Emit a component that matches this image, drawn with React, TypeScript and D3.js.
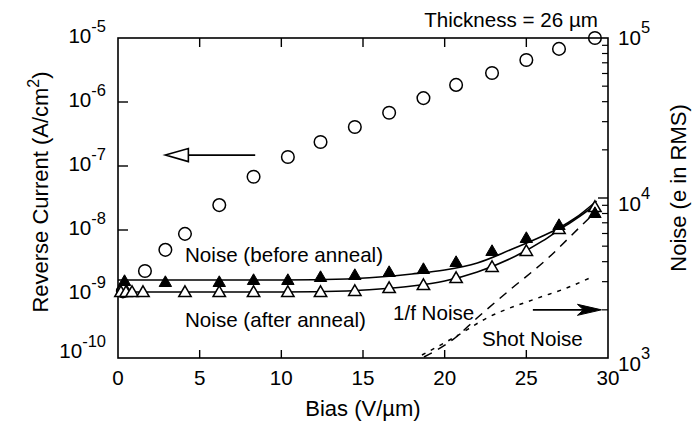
import React from "react";
import * as d3 from "d3";

// Reverse current (left axis, A/cm^2), open circles
const currentBias = [0.3, 1.65, 2.9, 4.1, 6.2, 8.3, 10.4, 12.4, 14.5, 16.6, 18.7, 20.7, 22.9, 25.0, 27.0, 29.2];
const currentValues = [1.1e-9, 2.29e-9, 4.9e-9, 8.7e-9, 2.45e-8, 6.8e-8, 1.38e-7, 2.37e-7, 4.07e-7, 6.8e-7, 1.15e-6, 1.85e-6, 2.84e-6, 4.53e-6, 6.76e-6, 1.0e-5];

// Noise before anneal (right axis, e RMS), filled triangles
const beforeBias = [0.4, 2.9, 6.2, 8.3, 10.4, 12.4, 14.5, 16.6, 18.7, 20.7, 22.9, 25.0, 27.0, 29.2];
const beforeNoise = [3030, 2985, 2985, 3073, 3073, 3208, 3302, 3447, 3599, 3981, 4665, 5623, 6780, 8058];

// Noise after anneal, open triangles
const afterBias = [0.18, 0.49, 0.86, 1.53, 4.1, 6.2, 8.3, 10.4, 12.4, 14.5, 16.6, 18.7, 20.7, 22.9, 25.0, 27.0, 29.2];
const afterNoise = [2585, 2585, 2585, 2585, 2585, 2585, 2585, 2585, 2585, 2623, 2738, 2859, 3162, 3705, 4665, 6401, 8784];

// Fitted curves
const fitBias = [0, 5, 10, 14, 16, 18, 20, 22, 24, 26, 27, 28, 29.3];
const fitBefore = [3073, 3073, 3073, 3118, 3208, 3350, 3548, 3926, 4732, 5788, 6494, 7499, 9578];
const fitAfter = [2585, 2585, 2585, 2623, 2699, 2818, 3028, 3447, 4169, 5390, 6310, 7356, 9173];

// 1/f noise (long dashes) and shot noise (short dashes)
const oneOverFBias = [18.73, 20.63, 21.98, 24.06, 26.27, 28.22, 29.3];
const oneOverFNoise = [1014, 1334, 1778, 2700, 4157, 6494, 8294];
const shotBias = [18.61, 20.63, 22.59, 25.71, 27.31, 29.02];
const shotNoise = [1044, 1353, 1778, 2371, 2700, 3208];

// Axis ticks
const xTicks = [0, 5, 10, 15, 20, 25, 30];
const leftExponents = [-5, -6, -7, -8, -9, -10];
const rightExponents = [5, 4, 3];

const W = 700;
const H = 425;
const M = { left: 118, right: 608, top: 38, bottom: 358 };
const FONT = "'Liberation Sans', Arial, Helvetica, sans-serif";
const FS = 20.6;

export default function App() {
  const x = d3.scaleLinear().domain([0, 30]).range([M.left, M.right]);
  const yL = d3.scaleLog().domain([1e-10, 1e-5]).range([M.bottom, M.top]);
  const yR = d3.scaleLog().domain([1e3, 1e5]).range([M.bottom, M.top]);

  const lineR = (xs: number[], ys: number[], curve: any) =>
    d3
      .line<number>()
      .x((_, i) => x(xs[i]))
      .y((v) => yR(v))
      .curve(curve)(ys) || "";

  const minorR: number[] = [];
  for (let e = 3; e < 5; e++) for (let m = 2; m <= 9; m++) minorR.push(m * Math.pow(10, e));

  const tri = (cx: number, cy: number, s: number) =>
    `M${cx},${cy - s * 0.62} L${cx + s * 0.62},${cy + s * 0.45} L${cx - s * 0.62},${cy + s * 0.45} Z`;

  // arrows
  const la = { x1: x(8.4), x2: x(2.9), y: yL(1.48e-7) };
  const ra = { x1: x(25.4), x2: x(29.6), y: yR(2000) };

  return (
    <svg width={W} height={H} style={{ display: "block", position: "absolute", left: 0, top: 0 }} fontFamily={FONT}>
      <rect width={W} height={H} fill="#fff" />
      {/* frame */}
      <rect x={M.left} y={M.top} width={M.right - M.left} height={M.bottom - M.top} fill="none" stroke="#000" strokeWidth={1.6} />

      {/* x ticks */}
      {xTicks.map((t) => (
        <g key={"xt" + t}>
          {t > 0 && t < 30 && (
            <>
              <line x1={x(t)} x2={x(t)} y1={M.bottom} y2={M.bottom - 8} stroke="#000" strokeWidth={1.4} />
              <line x1={x(t)} x2={x(t)} y1={M.top} y2={M.top + 9} stroke="#000" strokeWidth={1.4} />
            </>
          )}
          <text x={x(t)} y={385} textAnchor="middle" fontSize={FS}>
            {t}
          </text>
        </g>
      ))}

      {/* left ticks */}
      {leftExponents.map((e) => {
        const yy = yL(Math.pow(10, e));
        return (
          <g key={"lt" + e}>
            {e < -5 && e > -10 && <line x1={M.left} x2={M.left + 10} y1={yy} y2={yy} stroke="#000" strokeWidth={1.4} />}
            <text x={106} y={yy + (e === -10 ? 0 : 5)} textAnchor="end" fontSize={FS}>
              <tspan>10</tspan>
              <tspan dy={-11} fontSize={16.5}>{String(e)}</tspan>
            </text>
          </g>
        );
      })}

      {/* right ticks */}
      {minorR.map((v) => (
        <line key={"mr" + v} x1={M.right} x2={M.right - 6} y1={yR(v)} y2={yR(v)} stroke="#000" strokeWidth={1.2} />
      ))}
      {rightExponents.map((e) => {
        const yy = yR(Math.pow(10, e));
        return (
          <g key={"rt" + e}>
            {e === 4 && <line x1={M.right} x2={M.right - 10} y1={yy} y2={yy} stroke="#000" strokeWidth={1.4} />}
            <text x={618} y={yy + (e === 5 ? 7 : 13)} textAnchor="start" fontSize={FS}>
              <tspan>10</tspan>
              <tspan dy={-12} fontSize={16.5}>{String(e)}</tspan>
            </text>
          </g>
        );
      })}

      {/* axis titles */}
      <text x={(M.left + M.right) / 2} y={416} textAnchor="middle" fontSize={22}>
        Bias (V/µm)
      </text>
      <text transform={`translate(48,${(M.top + M.bottom) / 2 - 6}) rotate(-90)`} textAnchor="middle" fontSize={22}>
        <tspan>Reverse Current (A/cm</tspan>
        <tspan dy={-9} fontSize={16}>2</tspan>
        <tspan dy={9}>)</tspan>
      </text>
      <text transform={`translate(686,${(M.top + M.bottom) / 2 - 10}) rotate(-90)`} textAnchor="middle" fontSize={22}>
        Noise (e in RMS)
      </text>
      <text x={598} y={27} textAnchor="end" fontSize={FS}>
        Thickness = 26 µm
      </text>

      {/* noise component lines */}
      <path d={lineR(oneOverFBias, oneOverFNoise, d3.curveMonotoneX)} fill="none" stroke="#000" strokeWidth={1.5} strokeDasharray="9 7" />
      <path d={lineR(shotBias, shotNoise, d3.curveMonotoneX)} fill="none" stroke="#000" strokeWidth={1.5} strokeDasharray="4 6" />

      {/* fitted curves */}
      <path d={lineR(fitBias, fitBefore, d3.curveMonotoneX)} fill="none" stroke="#000" strokeWidth={1.6} />
      <path d={lineR(fitBias, fitAfter, d3.curveMonotoneX)} fill="none" stroke="#000" strokeWidth={1.6} />

      {/* markers */}
      {currentBias.map((b, i) => (
        <circle key={"c" + i} cx={x(b)} cy={yL(currentValues[i])} r={6.3} fill="none" stroke="#000" strokeWidth={1.5} />
      ))}
      {afterBias.map((b, i) => (
        <path key={"a" + i} d={tri(x(b), yR(afterNoise[i]), 10)} fill="#fff" stroke="#000" strokeWidth={1.5} />
      ))}
      {beforeBias.map((b, i) => (
        <path key={"b" + i} d={tri(x(b), yR(beforeNoise[i]), 10)} fill="#000" stroke="#000" strokeWidth={1} />
      ))}

      {/* annotations */}
      <text x={185} y={262} fontSize={FS}>Noise (before anneal)</text>
      <text x={185} y={327} fontSize={FS}>Noise (after anneal)</text>
      <text x={393} y={320} fontSize={FS}>1/f Noise</text>
      <text x={482} y={346} fontSize={FS}>Shot Noise</text>

      {/* left arrow (open head) */}
      <line x1={la.x1} x2={la.x2 + 22} y1={la.y} y2={la.y} stroke="#000" strokeWidth={1.6} />
      <path d={`M${la.x2},${la.y} L${la.x2 + 23},${la.y - 6.5} L${la.x2 + 23},${la.y + 6.5} Z`} fill="#fff" stroke="#000" strokeWidth={1.6} />

      {/* right arrow (filled head) */}
      <line x1={ra.x1} x2={ra.x2 - 10} y1={ra.y} y2={ra.y} stroke="#000" strokeWidth={1.6} />
      <path d={`M${ra.x2},${ra.y} L${ra.x2 - 24},${ra.y - 5.5} L${ra.x2 - 18},${ra.y} L${ra.x2 - 24},${ra.y + 5.5} Z`} fill="#000" stroke="#000" strokeWidth={1} />
    </svg>
  );
}
